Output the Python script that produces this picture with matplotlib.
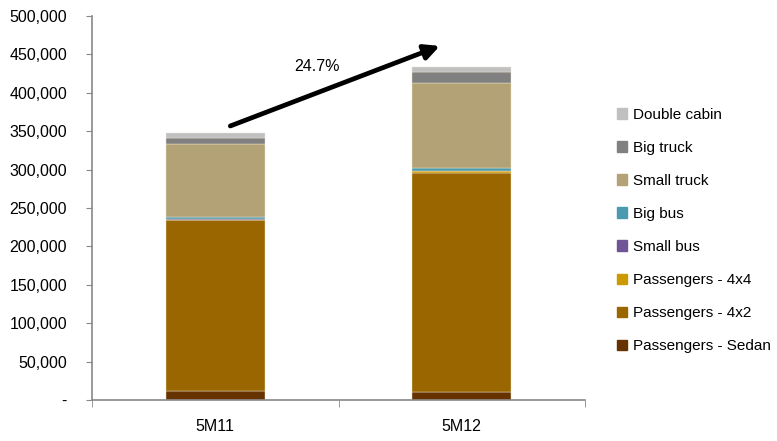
"""Stacked bar chart of vehicle sales, 5M11 vs 5M12."""
import numpy as np
import matplotlib.pyplot as plt
from matplotlib.ticker import FuncFormatter
from matplotlib.patches import Patch

periods = ["5M11", "5M12"]
segments = ["Passengers - Sedan", "Passengers - 4x2", "Passengers - 4x4",
            "Small bus", "Big bus", "Small truck", "Big truck", "Double cabin"]
# units, thousands
sedan = [11.5, 10.0]
pass_4x2 = [222.5, 285.6]
pass_4x4 = [1.0, 2.5]
small_bus = [0.5, 0.5]
big_bus = [2.5, 3.0]
small_truck = [95.3, 111.0]
big_truck = [7.5, 14.4]
double_cabin = [6.5, 6.5]
growth_label = "24.7%"

colors = ["#663300", "#996600", "#CC9900", "#6F5596",
          "#4A9BB0", "#B3A276", "#808080", "#C0C0C0"]

plt.rcParams["font.family"] = ["Liberation Sans", "DejaVu Sans"]

fig = plt.figure(figsize=(7.77, 4.41), dpi=100)
ax = fig.add_axes([92 / 777, 1 - 400 / 441, (585 - 92) / 777, (400 - 16) / 441])

series = [sedan, pass_4x2, pass_4x4, small_bus, big_bus,
          small_truck, big_truck, double_cabin]
x = np.arange(len(periods))
bottom = np.zeros(len(periods))
for vals, col in zip(series, colors):
    v = np.array(vals) * 1000
    ax.bar(x, v, 0.4, bottom=bottom, color=col, edgecolor="#f0e6d0",
           linewidth=0.3)
    bottom += v

ax.set_xlim(-0.5, 1.5)
ax.set_ylim(0, 500000)
ax.set_yticks(np.arange(0, 500001, 50000))
ax.yaxis.set_major_formatter(FuncFormatter(
    lambda v, p: "-" if v == 0 else f"{int(v):,}"))
ax.set_xticks(x)
ax.set_xticklabels(periods)
ax.set_xticks([-0.5, 0.5, 1.5], minor=True)
ax.tick_params(axis="x", which="major", length=0, pad=14, labelsize=11.5)
ax.tick_params(axis="x", which="minor", length=5, color="#888888")
ax.tick_params(axis="y", length=4, color="#888888", labelsize=11.5, pad=14)
for s in ["top", "right"]:
    ax.spines[s].set_visible(False)
for s in ["left", "bottom"]:
    ax.spines[s].set_color("#888888")
    ax.spines[s].set_linewidth(1.2)

ax.annotate("", xy=(0.911, 461000), xytext=(0.061, 356800),
            arrowprops=dict(arrowstyle="-|>,head_length=0.9,head_width=0.45",
                            color="black", lw=3.4, shrinkA=0, shrinkB=0))
ax.text(0.413, 433600, growth_label, ha="center", va="center", fontsize=11.5)

handles = [Patch(color=c, label=l) for c, l in zip(colors, segments)][::-1]
fig.legend(handles=handles, loc="upper left", bbox_to_anchor=(603 / 777, 1 - 94 / 441),
           frameon=False, fontsize=11, handlelength=0.7, handleheight=0.7,
           handletextpad=0.35, labelspacing=1.25)

fig.savefig("out.png", dpi=100)
